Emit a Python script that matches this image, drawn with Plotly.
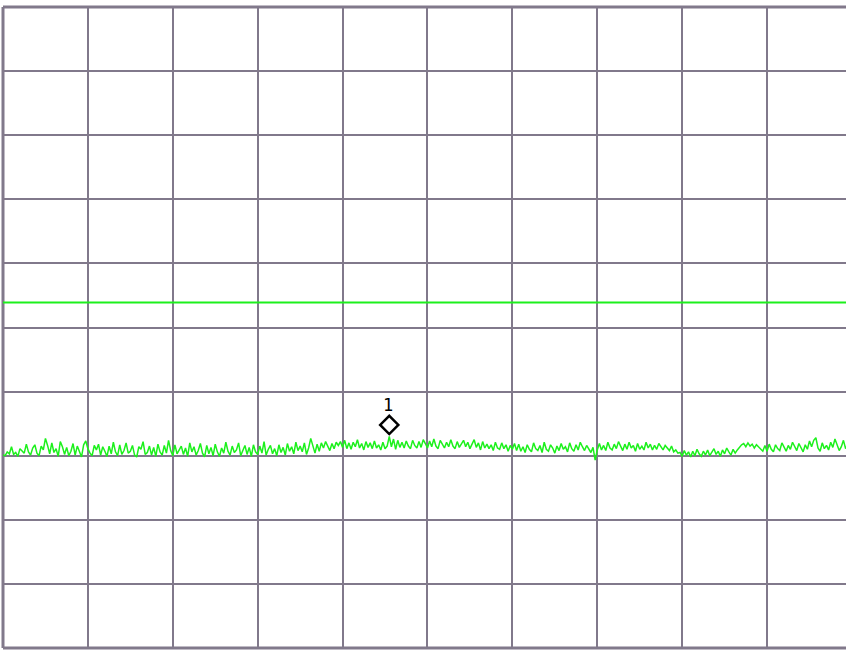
import plotly.graph_objects as go

# Spectrum trace in dBm, 401 sweep points split by frequency segment
seg_low = [
    -69.9, -70.0, -69.4, -69.7, -68.6, -69.8, -69.5, -70.1, -68.9, -69.3,
    -69.6, -68.2, -69.4, -69.9, -68.8, -68.3, -69.6, -70.0, -68.5, -69.1,
    -67.3, -68.4, -69.7, -68.0, -69.5, -68.9, -70.1, -67.8, -68.6, -69.8,
    -68.7, -70.0, -69.3, -68.1, -69.9, -68.5, -69.4, -70.2, -68.3, -67.7,
    -68.9, -69.6, -70.0, -68.4, -69.1, -68.2, -69.9, -68.6, -69.3, -70.1,
    -68.5, -69.7, -67.9, -69.4, -70.0, -68.3, -69.8, -69.2, -68.0, -69.6,
    -69.3, -68.4, -69.9, -70.2, -68.6, -69.0, -67.8, -69.8, -69.5, -68.5,
    -69.9, -68.7, -70.1, -68.2, -69.4, -69.9, -68.4, -69.6, -67.6, -69.2,
    -70.0, -68.3, -69.7, -69.1, -68.5, -69.8, -68.8, -70.1, -68.0, -69.4,
    -68.6, -69.9, -69.2, -68.1, -69.6, -70.2, -68.4, -69.7, -68.7, -70.0,
    -68.2, -69.4, -70.1, -68.8, -69.6, -67.9, -69.3, -69.9, -68.5, -69.5,
    -69.1, -68.0, -70.0, -69.2, -68.4, -69.8, -68.7, -70.1, -68.3, -69.4,
    -69.8, -68.5, -69.6, -67.8, -69.9, -69.0, -68.4, -69.7, -68.9, -70.0,
    -68.3, -69.5, -68.7, -69.9, -68.1, -69.3, -68.6, -69.7, -67.9, -69.2,
    -68.5, -69.4, -68.0, -69.8, -68.8, -67.3, -68.6, -69.6, -68.2, -69.3,
    -68.0, -68.8, -67.8, -68.5, -69.2, -68.1, -68.9, -67.9, -68.4,
]
seg_mid = [
    -67.8, -68.7, -67.6, -68.9, -68.0, -69.0, -67.9, -68.6, -67.5, -68.8,
    -68.1, -69.1, -67.8, -68.7, -68.0, -68.9, -67.7, -68.8, -68.3, -69.1,
    -67.9, -68.9, -68.5, -67.0, -68.6, -67.4, -69.0, -67.6, -68.7, -67.9,
    -68.8, -67.7, -68.5, -68.9, -67.6, -68.4, -68.8, -67.8, -68.7, -67.5,
    -68.1, -68.8, -67.7, -68.6, -67.4, -68.5, -68.9, -67.6, -68.2, -68.8,
    -67.9, -68.6, -67.5, -68.5, -68.9, -67.8, -68.7, -68.1, -67.6, -68.6,
    -67.9, -68.9, -68.2, -67.5, -68.7, -68.0, -69.1, -67.8, -68.8, -68.2,
    -68.9, -68.3, -69.2, -67.9, -68.8, -69.0, -68.0, -68.9, -68.3, -69.3,
    -68.4, -69.0, -68.1, -69.2,
]
seg_upper = [
    -68.2, -69.3, -68.6, -69.5, -68.3, -69.0, -69.4, -68.0, -68.9, -69.2,
    -68.4, -69.5, -67.9, -69.0, -69.3, -68.3, -68.8, -69.6, -68.5, -69.2,
    -68.1, -69.0, -68.6, -69.4, -68.0, -68.9, -69.3, -68.3, -69.1, -67.9,
    -68.6, -69.2, -68.4, -69.0, -69.5, -68.7, -70.7, -69.1,
    -68.1, -69.1, -68.4, -69.2, -67.9, -68.8, -69.1, -68.2, -68.9, -67.8,
    -68.5, -69.2, -68.2, -69.0, -67.9, -68.8, -68.4, -69.3, -68.1, -69.0,
    -68.5, -69.1, -67.9, -68.8, -68.2, -69.1, -68.4, -69.0, -68.1, -68.7,
    -69.1, -68.4, -68.9, -69.2, -68.5, -69.4, -69.1, -69.6,
]
seg_high = [
    -69.5, -70.1, -69.2, -69.9, -69.4, -70.2, -69.3, -70.0, -69.0, -69.7,
    -70.1, -69.3, -69.9, -69.1, -70.0, -69.4, -68.9, -69.8, -69.3, -70.1,
    -69.1, -69.7, -68.8, -69.4, -69.9, -69.0, -69.6, -69.1, -68.6, -68.3,
    -68.1, -68.6, -68.0, -68.5, -68.2, -68.8, -68.3, -68.6, -69.0, -69.3,
    -68.4, -69.3, -68.2, -69.0, -69.4, -68.3, -68.9, -69.2, -68.0, -68.7,
    -69.3, -68.4, -69.0, -67.9, -68.7, -69.2, -68.1, -68.9, -69.4, -68.3,
    -69.0, -67.7, -68.6, -67.6, -67.2, -68.8, -69.3, -68.0, -68.9, -68.4,
    -69.1, -67.9, -68.7, -67.4, -68.3, -69.2, -68.6, -67.6, -68.9, -68.2,
    -68.8, -68.3,
]
trace_dbm = seg_low + seg_mid + seg_upper + seg_high

span_start = 0.0
span_stop = 1000.0
n_pts = len(trace_dbm)
freqs = [span_start + (span_stop - span_start) * i / (n_pts - 1) for i in range(n_pts)]

ref_level = 0.0        # top graticule line, dBm
db_per_div = 10.0
n_div = 10
display_line_dbm = -46.1
marker_label = "1"

grid_color = "#81798b"
trace_color = "#1cf01c"

# marker 1 sits on the trace maximum
peak_idx = max(range(n_pts), key=lambda i: trace_dbm[i])
marker_x = freqs[peak_idx]
marker_y = trace_dbm[peak_idx]

fig = go.Figure()

# display line
fig.add_trace(go.Scatter(
    x=[span_start, span_stop], y=[display_line_dbm, display_line_dbm],
    mode="lines", line=dict(color=trace_color, width=2),
    hoverinfo="skip", showlegend=False,
))

fig.add_trace(go.Scatter(
    x=freqs, y=trace_dbm, mode="lines",
    line=dict(color=trace_color, width=1.5),
    showlegend=False,
))

# marker diamond, drawn just above the trace point
fig.add_trace(go.Scatter(
    x=[marker_x], y=[marker_y + 1.8], mode="markers",
    marker=dict(symbol="diamond-open", size=14, color="black",
                line=dict(color="black", width=2.5)),
    hoverinfo="skip", showlegend=False,
))

# marker number above the diamond
fig.add_annotation(
    x=marker_x, y=marker_y + 1.8, text=marker_label, showarrow=False,
    yshift=20, xshift=-1,
    font=dict(family="DejaVu Sans Mono", size=17, color="black"),
)

# graticule frame: left, top, bottom
for x0, y0, x1, y1 in [(0, 0, 0, 1), (0, 1, 1, 1), (0, 0, 1, 0)]:
    fig.add_shape(type="line", xref="paper", yref="paper",
                  x0=x0, y0=y0, x1=x1, y1=y1,
                  line=dict(color=grid_color, width=3), layer="below")

fig.update_layout(
    width=846, height=651,
    margin=dict(l=3, r=0, t=7, b=3),
    paper_bgcolor="white", plot_bgcolor="white",
    xaxis=dict(range=[0, 993], dtick=100, tick0=0, showgrid=True,
               gridcolor=grid_color, gridwidth=2, zeroline=False,
               showticklabels=False, ticks=""),
    yaxis=dict(range=[ref_level - n_div * db_per_div, ref_level],
               dtick=db_per_div, tick0=ref_level, showgrid=True,
               gridcolor=grid_color, gridwidth=2, zeroline=False,
               showticklabels=False, ticks=""),
)

fig.write_html("out.html")
